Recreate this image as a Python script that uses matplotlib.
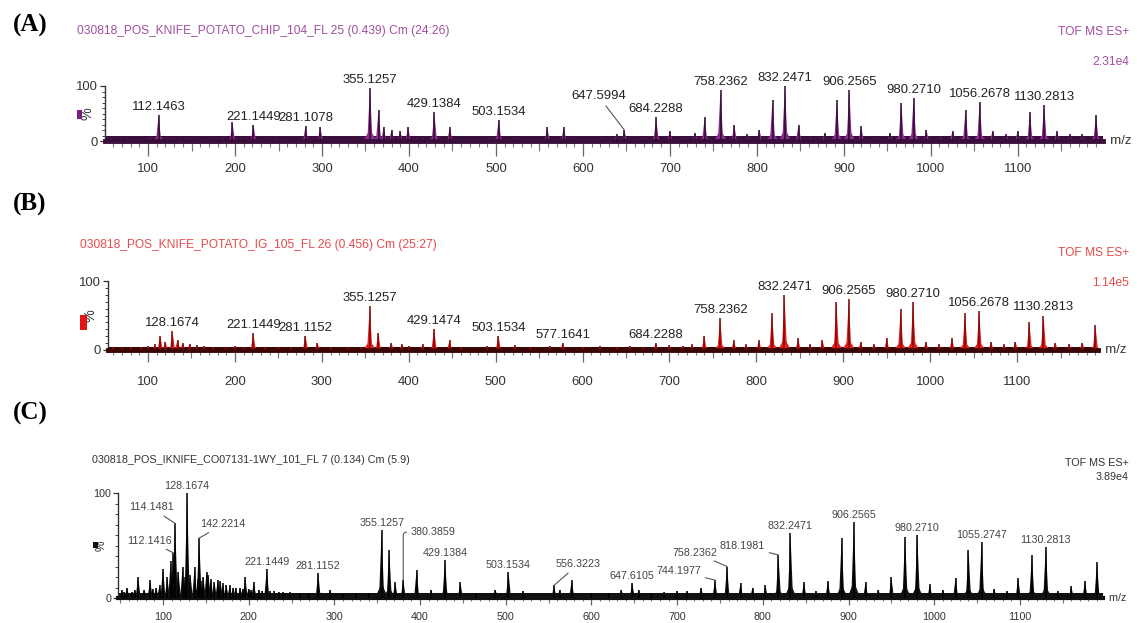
import matplotlib
matplotlib.use("Agg")
import matplotlib.pyplot as plt
from matplotlib import font_manager
from matplotlib.patches import Rectangle
from matplotlib.ticker import MultipleLocator, FixedLocator, NullFormatter

# ---------------------------------------------------------------- data ----
# (A) potato chip, iKnife
A_title = "030818_POS_KNIFE_POTATO_CHIP_104_FL 25 (0.439) Cm (24:26)"
A_scale = "2.31e4"
A_label_mz = [112.1463, 221.1449, 281.1078, 355.1257, 429.1384, 503.1534, 647.5994,
              684.2288, 758.2362, 832.2471, 906.2565, 980.2710, 1056.2678, 1130.2813]
A_label_int = [48, 30, 27, 97, 52, 39, 20, 43, 93, 100, 93, 79, 71, 66]
A_peak_mz = [58, 66, 74, 82, 90, 98, 104, 118, 124, 132, 140, 148, 156, 164, 172, 180,
             188, 197, 205, 212, 230, 240, 250, 262, 270, 298, 310, 322, 335, 345, 365,
             371, 380, 390, 399, 410, 418, 447, 460, 475, 491, 522, 535, 545, 559, 578,
             590, 605, 620, 639, 669, 700, 715, 729, 740, 774, 789, 803, 818, 848, 863,
             878, 892, 920, 938, 953, 966, 995, 1010, 1025, 1040, 1071, 1087, 1100, 1114,
             1145, 1160, 1174, 1190]
A_peak_int = [7, 6, 8, 6, 7, 8, 9, 10, 8, 9, 7, 9, 8, 7, 8, 7,
              8, 34, 8, 7, 7, 8, 6, 7, 6, 25, 6, 6, 7, 7, 57,
              25, 20, 18, 25, 8, 8, 25, 7, 7, 10, 10, 7, 7, 25, 25,
              8, 7, 10, 12, 10, 18, 10, 15, 43, 30, 12, 20, 75, 30, 10,
              15, 75, 27, 10, 15, 70, 20, 10, 18, 57, 18, 12, 18, 52,
              18, 12, 12, 48]

# (B) potato, iKnife
B_title = "030818_POS_KNIFE_POTATO_IG_105_FL 26 (0.456) Cm (25:27)"
B_scale = "1.14e5"
B_label_mz = [128.1674, 221.1449, 281.1152, 355.1257, 429.1474, 503.1534, 577.1641,
              684.2288, 758.2362, 832.2471, 906.2565, 980.2710, 1056.2678, 1130.2813]
B_label_int = [27, 24, 21, 64, 31, 21, 10, 10, 46, 79, 74, 70, 57, 50]
B_peak_mz = [60, 70, 80, 92, 100, 108, 114, 120, 134, 140, 148, 156, 165, 175, 190, 200,
             210, 235, 250, 265, 295, 310, 330, 345, 365, 380, 392, 400, 416, 447, 460,
             490, 522, 540, 562, 600, 620, 640, 654, 670, 700, 715, 726, 740, 774, 788,
             803, 818, 848, 862, 876, 892, 920, 935, 950, 966, 995, 1010, 1025, 1040,
             1070, 1085, 1098, 1114, 1144, 1160, 1175, 1190]
B_peak_int = [5, 4, 5, 5, 6, 8, 21, 12, 15, 10, 9, 7, 6, 5, 5, 6,
              5, 5, 5, 4, 10, 4, 5, 5, 25, 10, 8, 6, 8, 14, 5,
              6, 7, 5, 6, 5, 6, 5, 6, 5, 7, 6, 8, 20, 14, 8,
              14, 53, 17, 8, 14, 70, 12, 8, 17, 60, 12, 8, 17, 53,
              12, 8, 12, 41, 10, 8, 10, 36]

# (C) reference sample CO07131-1WY
C_title = "030818_POS_IKNIFE_CO07131-1WY_101_FL 7 (0.134) Cm (5.9)"
C_scale = "3.89e4"
C_label_mz = [112.1416, 114.1481, 128.1674, 142.2214, 221.1449, 281.1152, 355.1257,
              380.3859, 429.1384, 503.1534, 556.3223, 647.6105, 744.1977, 758.2362,
              818.1981, 832.2471, 906.2565, 980.2710, 1055.2747, 1130.2813]
C_label_int = [43, 71, 100, 57, 28, 24, 65, 17, 36, 25, 12, 14, 17, 30, 41, 62, 72, 60, 53, 49]
C_peak_mz = [52, 55, 58, 64, 67, 71, 78, 85, 88, 92, 96, 100, 105, 109, 118, 123, 126,
             132, 137, 141, 144, 147, 151, 153, 156, 160, 164, 167, 170, 174, 178, 182,
             185, 190, 193, 196, 200, 203, 206, 212, 216, 225, 230, 235, 240, 248, 260,
             270, 295, 310, 325, 340, 364, 371, 396, 413, 447, 465, 488, 520, 563, 577,
             600, 620, 635, 655, 670, 685, 700, 712, 728, 774, 788, 803, 848, 862, 876,
             892, 920, 935, 950, 966, 995, 1010, 1025, 1040, 1070, 1085, 1098, 1114,
             1144, 1160, 1176, 1190]
C_peak_int = [8, 6, 10, 6, 8, 20, 8, 17, 9, 10, 12, 28, 20, 35, 25, 30, 20,
              22, 30, 18, 16, 20, 25, 22, 18, 15, 17, 16, 14, 12, 12, 10,
              10, 10, 9, 20, 9, 8, 15, 8, 7, 7, 7, 6, 6, 6, 5,
              5, 8, 4, 5, 5, 46, 15, 27, 8, 15, 5, 8, 7, 8, 17,
              5, 5, 8, 8, 5, 6, 7, 7, 10, 14, 10, 12, 15, 7, 16,
              57, 15, 8, 20, 58, 13, 8, 19, 46, 9, 7, 19, 41,
              7, 11, 16, 34]

x_major = [100, 200, 300, 400, 500, 600, 700, 800, 900, 1000, 1100]
y_major = [0, 100]

# ------------------------------------------------------------- styling ----
W, H = 1137, 623
fig = plt.figure(figsize=(W / 100, H / 100), dpi=100)
fig.patch.set_facecolor("white")

installed = {f.name for f in font_manager.fontManager.ttflist}
if "Liberation Sans Narrow" in installed:
    SANS, K = ["Liberation Sans Narrow", "DejaVu Sans"], 1.0
else:
    SANS, K = ["Liberation Sans", "DejaVu Sans"], 0.82
SERIF = ["Liberation Serif", "DejaVu Serif"]


def ftext(x, y, s, **kw):
    """Place text at pixel coordinates measured from the top-left corner."""
    return fig.text(x / W, 1 - y / H, s, **kw)


def px_axes(left, right, y0, y100):
    return fig.add_axes([left / W, 1 - y0 / H, (right - left) / W, (y0 - y100) / H])


PANELS = [
    dict(letter="(A)", letter_y=25, title=A_title, scale=A_scale,
         label_mz=A_label_mz, label_int=A_label_int, peak_mz=A_peak_mz, peak_int=A_peak_int,
         box=(105, 1103, 141, 86), xlim=(50.5, 1198),
         title_xy=(77, 31), tof_y=32, scale_y=62, head_col="#a24ea2", head_fs=10.5,
         fill="#8a2a8e", core="#2d0a2e", base="#3b0f3c", base_level=9,
         swatch=(77, 110, 5, 9), swatch_col="#7a1f7e",
         lab_fs=11.5, tick_fs=11.5, lab_col="#222222",
         maj_len=15, mid_len=10, min_len=6, tick_pad=5, base_lw=3.5,
         leaders={"647.5994": (-26, 34)}),
    dict(letter="(B)", letter_y=204, title=B_title, scale=B_scale,
         label_mz=B_label_mz, label_int=B_label_int, peak_mz=B_peak_mz, peak_int=B_peak_int,
         box=(108, 1098, 350, 281), xlim=(54, 1193),
         title_xy=(80, 245), tof_y=253, scale_y=283, head_col="#e84a4a", head_fs=10.5,
         fill="#ea1c1c", core="#7a0606", base="#3a0505", base_level=5,
         swatch=(80, 315, 7, 15), swatch_col="#e01616",
         lab_fs=11.5, tick_fs=11.5, lab_col="#222222",
         maj_len=12, mid_len=8, min_len=5, tick_pad=10, base_lw=3.5,
         leaders={}),
    dict(letter="(C)", letter_y=413, title=C_title, scale=C_scale,
         label_mz=C_label_mz, label_int=C_label_int, peak_mz=C_peak_mz, peak_int=C_peak_int,
         box=(118, 1103, 598, 493), xlim=(47.5, 1197),
         title_xy=(92, 460), tof_y=463, scale_y=477, head_col="#333333", head_fs=9.5,
         fill="#111111", core="#000000", base="#111111", base_level=5,
         swatch=(93, 542, 5, 6), swatch_col="#111111",
         lab_fs=9.5, tick_fs=9.5, lab_col="#444444",
         maj_len=7, mid_len=5, min_len=3, tick_pad=5, base_lw=3.0,
         leaders={"112.1416": (-24, 12), "114.1481": (-24, 16), "142.2214": (24, 14),
                  "556.3223": (24, 21), "744.1977": (-36, 9),
                  "758.2362": (-32, 14), "818.1981": (-36, 9)},
         angled={"380.3859": (30, 48)}),
]

PEAK_HW = 3.0      # half base width of a centroid spike, m/z units
SKIRT_HW = 7.5     # half width of the unresolved shoulder under each spike
SKIRT_FRAC = 0.22  # shoulder height relative to the spike

for p in PANELS:
    left, right, y0, y100 = p["box"]
    ax = px_axes(left, right, y0, y100)
    ax.set_xlim(*p["xlim"])
    ax.set_ylim(0, 100)
    ax.set_facecolor("none")
    for s in ("top", "right"):
        ax.spines[s].set_visible(False)
    ax.spines["left"].set_color("#333333")
    ax.spines["left"].set_linewidth(1.0)
    ax.spines["bottom"].set_color(p["base"])
    ax.spines["bottom"].set_linewidth(p["base_lw"])

    xl = p["xlim"]
    # baseline chemical noise band
    ax.fill_between(xl, 0, p["base_level"], color=p["base"], lw=0, zorder=1)

    mzs = list(p["peak_mz"]) + list(p["label_mz"])
    ints = list(p["peak_int"]) + list(p["label_int"])
    for m, h in zip(mzs, ints):
        ax.fill([m - SKIRT_HW, m, m + SKIRT_HW], [0, h * SKIRT_FRAC, 0],
                color=p["fill"], lw=0, zorder=2)
        ax.fill([m - PEAK_HW, m, m + PEAK_HW], [0, h, 0],
                color=p["fill"], lw=0, zorder=2)
    ax.vlines(mzs, 0, ints, colors=p["core"], lw=1.1, zorder=3)

    # peak annotations
    angled = p.get("angled", {})
    for m, h in zip(p["label_mz"], p["label_int"]):
        txt = f"{m:.4f}"
        common = dict(fontsize=p["lab_fs"] * K, family=SANS, color=p["lab_col"],
                      annotation_clip=False, textcoords="offset pixels", ha="center")
        if txt in p["leaders"]:
            ax.annotate(txt, xy=(m, h), xytext=p["leaders"][txt], va="center",
                        arrowprops=dict(arrowstyle="-", color="#555555", lw=0.8,
                                        shrinkA=1, shrinkB=0), **common)
        elif txt in angled:
            ax.annotate(txt, xy=(m, h), xytext=angled[txt], va="center",
                        arrowprops=dict(arrowstyle="-", color="#555555", lw=0.8,
                                        shrinkA=1, shrinkB=0,
                                        connectionstyle="angle,angleA=0,angleB=90,rad=3"),
                        **common)
        else:
            ax.annotate(txt, xy=(m, h), xytext=(0, 2), va="bottom", **common)

    # axes ticks
    ax.xaxis.set_major_locator(FixedLocator(x_major))
    ax.xaxis.set_minor_locator(MultipleLocator(10))
    ax.yaxis.set_major_locator(FixedLocator(y_major))
    ax.yaxis.set_minor_locator(MultipleLocator(10))
    ax.tick_params(axis="x", which="major", direction="out", length=p["maj_len"] / 1.389,
                   width=0.9, color="#666666", labelsize=p["tick_fs"] * K,
                   labelcolor="#333333", pad=p["tick_pad"])
    ax.tick_params(axis="x", which="minor", direction="out", length=p["min_len"] / 1.389,
                   width=0.8, color="#777777")
    ax.tick_params(axis="y", which="major", direction="out", length=3.5,
                   width=0.9, color="#333333", labelsize=p["tick_fs"] * K,
                   labelcolor="#333333", pad=1.5)
    ax.tick_params(axis="y", which="minor", direction="out", length=2, width=0.7,
                   color="#444444")
    for lab in ax.get_xticklabels() + ax.get_yticklabels():
        lab.set_family(SANS)

    # intermediate ticks at the half hundreds
    sec = ax.secondary_xaxis("bottom")
    sec.set_xticks([x + 50 for x in [0] + x_major])
    sec.xaxis.set_major_formatter(NullFormatter())
    sec.tick_params(direction="out", length=p["mid_len"] / 1.389, width=0.8, color="#777777")
    sec.spines["bottom"].set_visible(False)

    ax.set_ylabel("%", rotation=90, fontsize=p["tick_fs"] * K * 1.1, family=SANS,
                  color="#333333")
    ax.yaxis.set_label_coords(-10 / (right - left), 0.5)
    ax.text(1.0, 0, "  m/z", transform=ax.transAxes, ha="left", va="center",
            fontsize=p["tick_fs"] * K, family=SANS, color="#333333")

    # headers
    ftext(30, p["letter_y"], p["letter"], ha="center", va="center", fontsize=18,
          family=SERIF, fontweight="bold", color="#000000")
    tx, ty = p["title_xy"]
    ftext(tx, ty, p["title"], ha="left", va="center", fontsize=p["head_fs"] * K,
          family=SANS, color=p["head_col"])
    ftext(1129, p["tof_y"], "TOF MS ES+", ha="right", va="center",
          fontsize=p["head_fs"] * K, family=SANS, color=p["head_col"])
    ftext(1129, p["scale_y"], p["scale"], ha="right", va="center",
          fontsize=p["head_fs"] * K, family=SANS, color=p["head_col"])
    sx, sy, sw, sh = p["swatch"]
    fig.patches.append(Rectangle((sx / W, 1 - (sy + sh) / H), sw / W, sh / H,
                                 transform=fig.transFigure, color=p["swatch_col"], lw=0))

fig.savefig("out.png", dpi=100, facecolor="white")
